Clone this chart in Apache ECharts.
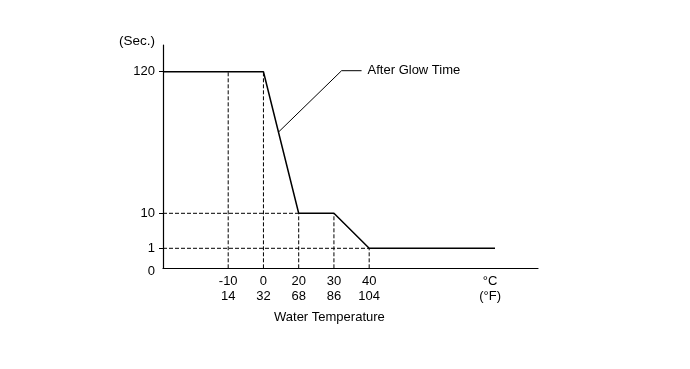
<!DOCTYPE html>
<html>
<head>
<meta charset="utf-8">
<script src="https://cdn.jsdelivr.net/npm/echarts@6/dist/echarts.min.js"></script>
<style>
html,body{margin:0;padding:0;background:#fff;}
#chart{width:690px;height:369px;}
</style>
</head>
<body>
<div id="chart"></div>
<script>
// ---- data ----
const tempTicksC = [-10, 0, 20, 30, 40];
const tempTicksF = [14, 32, 68, 86, 104];
const secTicks = [0, 1, 10, 120];
const secTickLabels = ['0', '1', '10', '120'];
// after-glow curve (temperature °C, seconds); ends run to the diagram edges (estimated)
const curveTempC = [-28.5, 0, 20, 30, 40, 75.7];
const curveSec = [120, 120, 10, 10, 1, 1];
const unitLabel = '°C\n(°F)';
const unitLabelTemp = 74.3;
const xAxisTitle = 'Water Temperature';
const yAxisTitle = '(Sec.)';
const seriesName = 'After Glow Time';

// ---- non-linear scales (schematic diagram) ----
// x: labelled temperatures are equally spaced; 10 °C per step beyond the ends
const xStepScale = [0, 1, 2, 3, 4];
function tempToX(t) {
  const n = tempTicksC.length;
  if (t <= tempTicksC[0]) return xStepScale[0] - (tempTicksC[0] - t) / 10;
  if (t >= tempTicksC[n - 1]) return xStepScale[n - 1] + (t - tempTicksC[n - 1]) / 10;
  for (let i = 0; i < n - 1; i++) {
    if (t <= tempTicksC[i + 1]) {
      const f = (t - tempTicksC[i]) / (tempTicksC[i + 1] - tempTicksC[i]);
      return xStepScale[i] + f * (xStepScale[i + 1] - xStepScale[i]);
    }
  }
}
// y: schematic spacing of 0, 1, 10, 120 s
const secScale = [0, 20, 55, 196.6];
function secToY(s) {
  for (let i = 0; i < secTicks.length - 1; i++) {
    if (s <= secTicks[i + 1]) {
      const f = (s - secTicks[i]) / (secTicks[i + 1] - secTicks[i]);
      return secScale[i] + f * (secScale[i + 1] - secScale[i]);
    }
  }
  return secScale[secScale.length - 1];
}
function curveAt(t) {
  for (let i = 0; i < curveTempC.length - 1; i++) {
    if (t >= curveTempC[i] && t <= curveTempC[i + 1]) {
      const f = (t - curveTempC[i]) / (curveTempC[i + 1] - curveTempC[i]);
      return curveSec[i] + f * (curveSec[i + 1] - curveSec[i]);
    }
  }
  return curveSec[curveSec.length - 1];
}

const xMin = tempToX(curveTempC[0]);
const xMax = xMin + 10.64;
const yMax = 223.3;

const curveData = curveTempC.map((t, i) => [tempToX(t), secToY(curveSec[i])]);
const xTickPos = tempTicksC.map(tempToX);
const unitPos = tempToX(unitLabelTemp);

const dashStyle = { color: '#000', width: 1, type: [4, 2] };
const guideSeries = [];
tempTicksC.forEach(t => {
  guideSeries.push({
    type: 'line', silent: true, symbol: 'none', z: 1,
    lineStyle: dashStyle,
    data: [[tempToX(t), 0], [tempToX(t), secToY(curveAt(t))]]
  });
});
[1, 10].forEach(s => {
  const idx = curveSec.indexOf(s);
  guideSeries.push({
    type: 'line', silent: true, symbol: 'none', z: 1,
    lineStyle: dashStyle,
    data: [[xMin, secToY(s)], [tempToX(curveTempC[idx]), secToY(s)]]
  });
});

const font = 'Liberation Sans, Arial, sans-serif';
const chart = echarts.init(document.getElementById('chart'));
chart.setOption({
  animation: false,
  backgroundColor: '#fff',
  grid: { left: 163, right: 152, top: 45, bottom: 100.7 },
  xAxis: {
    type: 'value', min: xMin, max: xMax,
    splitLine: { show: false },
    axisLine: { onZero: false, lineStyle: { color: '#000', width: 1.2 } },
    axisTick: { show: false },
    axisLabel: {
      customValues: xTickPos.concat([unitPos]),
      color: '#000', fontFamily: font, fontSize: 13, lineHeight: 15, margin: 6,
      formatter: v => {
        if (Math.abs(v - unitPos) < 1e-6) return unitLabel;
        const i = xTickPos.findIndex(p => Math.abs(p - v) < 1e-6);
        return i >= 0 ? tempTicksC[i] + '\n' + tempTicksF[i] : '';
      }
    }
  },
  yAxis: {
    type: 'value', min: 0, max: yMax,
    splitLine: { show: false },
    axisLine: { show: true, onZero: false, lineStyle: { color: '#000', width: 1.2 } },
    axisTick: { show: true, customValues: secScale.slice(1), length: 4, lineStyle: { color: '#000' } },
    axisLabel: {
      customValues: secScale,
      color: '#000', fontFamily: font, fontSize: 13, margin: 8,
      formatter: v => {
        const i = secScale.findIndex(p => Math.abs(p - v) < 1e-6);
        if (i === 0) return '{z|' + secTickLabels[0] + '}';
        return i >= 0 ? secTickLabels[i] : '';
      },
      rich: { z: { color: '#000', fontFamily: font, fontSize: 13, padding: [7, 0, 0, 0] } }
    }
  },
  graphic: [
    { type: 'text', left: 119, top: 34, style: { text: yAxisTitle, font: '13.5px ' + font, fill: '#000' } },
    { type: 'text', left: 274, top: 311, style: { text: xAxisTitle, font: '13px ' + font, fill: '#000' } }
  ],
  series: guideSeries.concat([
    {
      name: seriesName, type: 'line', symbol: 'none', z: 3,
      lineStyle: { color: '#000', width: 1.5 },
      data: curveData
    },
    {
      type: 'line', symbol: 'none', z: 3, silent: true,
      lineStyle: { color: '#000', width: 1 },
      data: [[1.438, 136.6], [3.217, 197.6], [3.784, 197.6]],
      endLabel: { show: true, formatter: seriesName, distance: 6, color: '#000', fontFamily: font, fontSize: 13 }
    }
  ])
});
</script>
</body>
</html>
